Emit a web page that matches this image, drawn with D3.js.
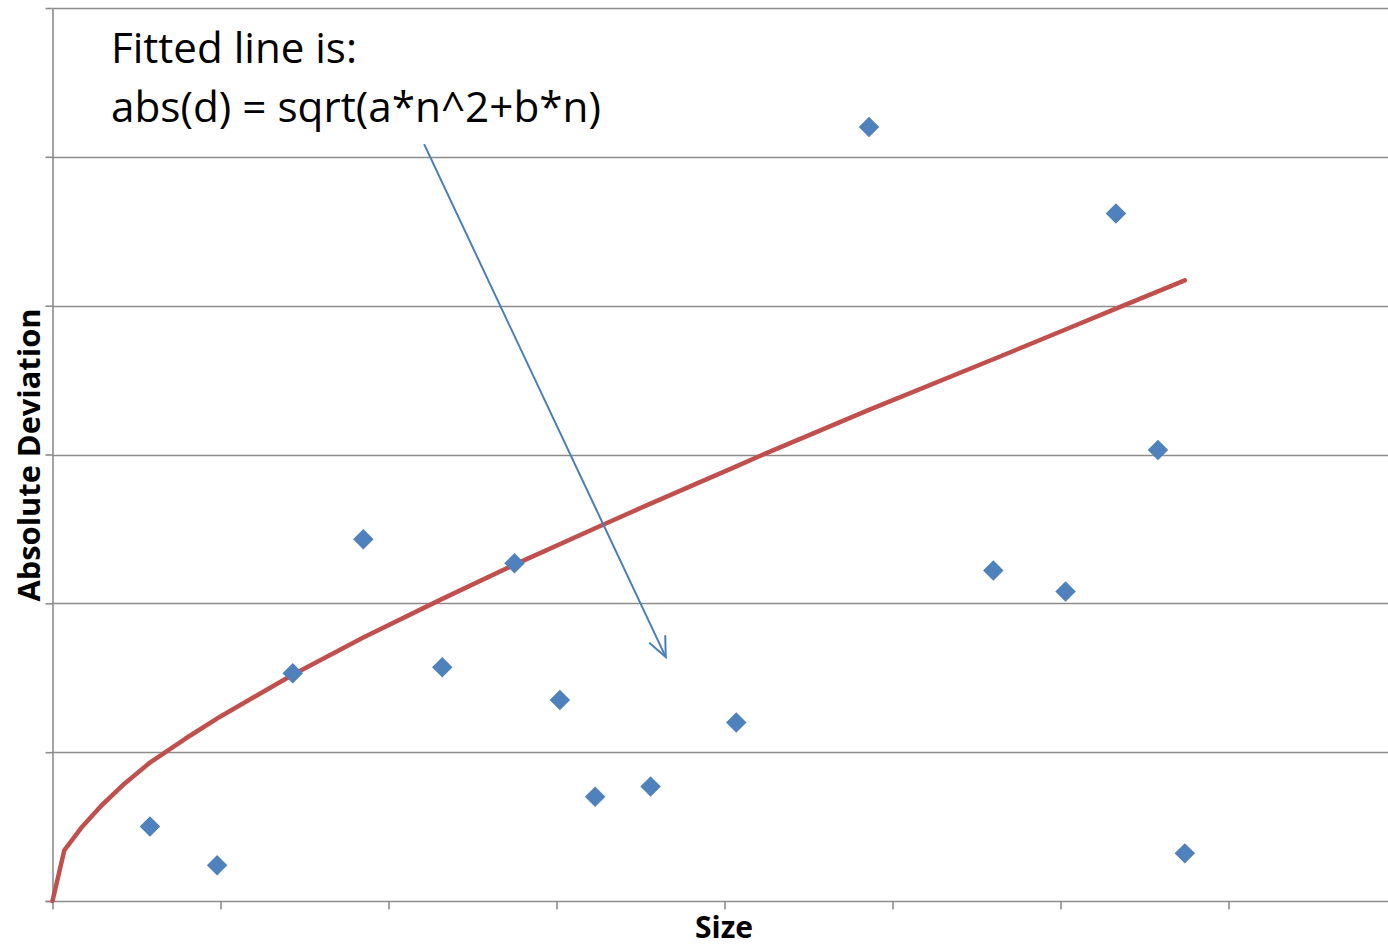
<!DOCTYPE html>
<html>
<head>
<meta charset="utf-8">
<script src="https://cdn.jsdelivr.net/npm/d3@7"></script>
<style>
  html, body { margin: 0; padding: 0; background: #ffffff; }
  svg { display: block; }
</style>
</head>
<body>
<svg id="chart" width="1388" height="947"></svg>
<script>
// ---- data ----
const sizes      = [0.58, 0.98, 1.43, 1.85, 2.32, 2.75, 3.02, 3.23, 3.56, 4.07, 4.86, 5.60, 6.03, 6.33, 6.58, 6.74];
const deviations = [0.50, 0.24, 1.53, 2.43, 1.57, 2.27, 1.35, 0.70, 0.77, 1.20, 5.20, 2.22, 2.08, 4.62, 3.03, 0.32];

const fitX = [0, 0.07, 0.17, 0.29, 0.43, 0.58, 0.79, 1.00, 1.43, 1.85, 2.32, 2.75, 3.26, 3.56, 4.07, 4.21, 4.86, 5.60, 6.03, 6.33, 6.74];
const fitY = [0, 0.34, 0.49, 0.64, 0.79, 0.93, 1.09, 1.24, 1.52, 1.77, 2.03, 2.26, 2.52, 2.67, 2.92, 2.99, 3.30, 3.64, 3.84, 3.98, 4.17];

const xTicks = [0, 1, 2, 3, 4, 5, 6, 7, 8];
const yTicks = [0, 1, 2, 3, 4, 5, 6];

const annotationLines = ["Fitted line is:", "abs(d) = sqrt(a*n^2+b*n)"];
const xTitle = "Size";
const yTitle = "Absolute Deviation";

(function () {
// ---- layout ----
const svg = d3.select("#chart");
const plotLeft = 52.5, plotBottom = 901, plotTop = 8;
const x = d3.scaleLinear().domain([0, 8]).range([plotLeft, plotLeft + 8 * 168]);
const y = d3.scaleLinear().domain([0, 6]).range([plotBottom, plotTop]);

const gridColor = "#8c8c8c";

// gridlines
svg.append("g").selectAll("line").data(yTicks.filter(d => d > 0)).join("line")
  .attr("x1", plotLeft).attr("x2", 1388)
  .attr("y1", d => Math.round(y(d)) + 0.5).attr("y2", d => Math.round(y(d)) + 0.5)
  .attr("stroke", gridColor).attr("stroke-width", 1.6);

// y axis
const yAxis = d3.axisLeft(y).tickValues(yTicks).tickSize(7).tickSizeOuter(0).tickFormat("");
const gy = svg.append("g").attr("transform", `translate(${plotLeft},0)`).call(yAxis);
gy.select(".domain").attr("stroke", gridColor).attr("stroke-width", 1.6);
gy.selectAll(".tick line").attr("stroke", gridColor).attr("stroke-width", 1.6);

// x axis
const xAxis = d3.axisBottom(x).tickValues(xTicks).tickSize(8).tickSizeOuter(0).tickFormat("");
const gx = svg.append("g").attr("transform", `translate(0,${plotBottom + 0.5})`).call(xAxis);
gx.select(".domain").attr("stroke", gridColor).attr("stroke-width", 1.6)
  .attr("d", `M${plotLeft - 7},0H1388`);
gx.selectAll(".tick line").attr("stroke", gridColor).attr("stroke-width", 1.6);

// fitted line
const fit = fitX.map((v, i) => [v, fitY[i]]);
svg.append("path").datum(fit)
  .attr("fill", "none").attr("stroke", "#c0504d").attr("stroke-width", 4.5)
  .attr("stroke-linejoin", "round").attr("stroke-linecap", "round")
  .attr("d", d3.line().x(d => x(d[0])).y(d => y(d[1])));

// points (diamonds)
const pts = sizes.map((v, i) => [v, deviations[i]]);
svg.append("g").selectAll("path").data(pts).join("path")
  .attr("d", d3.symbol().type(d3.symbolSquare).size(210))
  .attr("transform", d => `translate(${x(d[0])},${y(d[1])}) rotate(45)`)
  .attr("fill", "#4f81bd");

// annotation arrow (in data units)
const a0 = [2.214, 5.08], a1 = [3.65, 1.64];
const p0 = [x(a0[0]), y(a0[1])], p1 = [x(a1[0]), y(a1[1])];
const ang = Math.atan2(p1[1] - p0[1], p1[0] - p0[0]);
const headLen = 21, headAng = Math.PI / 7.5;
const arrow = svg.append("g").attr("stroke", "#4a7ebb").attr("stroke-width", 2).attr("fill", "none")
  .attr("stroke-linecap", "round");
arrow.append("line").attr("x1", p0[0]).attr("y1", p0[1]).attr("x2", p1[0]).attr("y2", p1[1]);
arrow.append("path").attr("d",
  `M${p1[0] - headLen * Math.cos(ang - headAng)},${p1[1] - headLen * Math.sin(ang - headAng)}` +
  `L${p1[0]},${p1[1]}` +
  `L${p1[0] - headLen * Math.cos(ang + headAng)},${p1[1] - headLen * Math.sin(ang + headAng)}`);

// text helper: fit to a measured width
function fitText(sel, target, base) {
  sel.attr("font-size", base);
  const len = sel.node().getComputedTextLength();
  sel.attr("font-size", base * target / len);
}
const font = "'Open Sans', 'Noto Sans', sans-serif";

const t1 = svg.append("text").attr("x", 111).attr("y", 63).attr("font-family", font).attr("fill", "#000").text(annotationLines[0]);
fitText(t1, 246, 40);
const t2 = svg.append("text").attr("x", 111).attr("y", 122).attr("font-family", font).attr("fill", "#000").text(annotationLines[1]);
fitText(t2, 490, 40);

const tx = svg.append("text").attr("x", 724).attr("y", 938).attr("text-anchor", "middle")
  .attr("font-family", font).attr("font-weight", "bold").attr("fill", "#000").text(xTitle);
fitText(tx, 58, 34);

const ty = svg.append("text").attr("transform", "translate(40,455) rotate(-90)").attr("text-anchor", "middle")
  .attr("font-family", font).attr("font-weight", "bold").attr("fill", "#000").text(yTitle);
fitText(ty, 293, 34);
})();
</script>
</body>
</html>
